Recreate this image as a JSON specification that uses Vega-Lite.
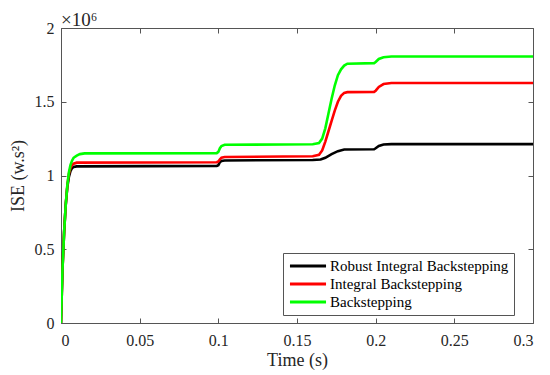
{
  "$schema": "https://vega.github.io/schema/vega-lite/v6.json",
  "width": 472,
  "height": 295,
  "autosize": {"type": "none"},
  "padding": {"left": 61, "top": 28, "right": 17, "bottom": 52},
  "title": {"text": "×10⁶", "anchor": "start", "frame": "group", "offset": 4, "dy": 14, "font": "Liberation Serif", "fontSize": 19, "fontWeight": "normal", "color": "#262626"},
  "config": {
    "view": {"stroke": "#555555", "strokeWidth": 1},
    "font": "Liberation Serif",
    "axis": {"grid": false, "domain": false, "tickColor": "#555555", "tickSize": -5, "labelFont": "Liberation Serif", "labelFontSize": 16, "labelColor": "#262626", "titleFont": "Liberation Serif", "titleFontSize": 18, "titleFontWeight": "normal", "titleColor": "#262626"}
  },
  "data": {"values": [
    {"t": 0, "v": 0, "s": "Robust Integral Backstepping"},
    {"t": 0.0005, "v": 0.2, "s": "Robust Integral Backstepping"},
    {"t": 0.001, "v": 0.38, "s": "Robust Integral Backstepping"},
    {"t": 0.002, "v": 0.62, "s": "Robust Integral Backstepping"},
    {"t": 0.003, "v": 0.8, "s": "Robust Integral Backstepping"},
    {"t": 0.004, "v": 0.92, "s": "Robust Integral Backstepping"},
    {"t": 0.005, "v": 0.99, "s": "Robust Integral Backstepping"},
    {"t": 0.006, "v": 1.03, "s": "Robust Integral Backstepping"},
    {"t": 0.007, "v": 1.05, "s": "Robust Integral Backstepping"},
    {"t": 0.008, "v": 1.058, "s": "Robust Integral Backstepping"},
    {"t": 0.01, "v": 1.062, "s": "Robust Integral Backstepping"},
    {"t": 0.099, "v": 1.065, "s": "Robust Integral Backstepping"},
    {"t": 0.1, "v": 1.07, "s": "Robust Integral Backstepping"},
    {"t": 0.101, "v": 1.09, "s": "Robust Integral Backstepping"},
    {"t": 0.102, "v": 1.098, "s": "Robust Integral Backstepping"},
    {"t": 0.104, "v": 1.102, "s": "Robust Integral Backstepping"},
    {"t": 0.16, "v": 1.105, "s": "Robust Integral Backstepping"},
    {"t": 0.165, "v": 1.108, "s": "Robust Integral Backstepping"},
    {"t": 0.168, "v": 1.12, "s": "Robust Integral Backstepping"},
    {"t": 0.172, "v": 1.145, "s": "Robust Integral Backstepping"},
    {"t": 0.176, "v": 1.165, "s": "Robust Integral Backstepping"},
    {"t": 0.18, "v": 1.176, "s": "Robust Integral Backstepping"},
    {"t": 0.199, "v": 1.178, "s": "Robust Integral Backstepping"},
    {"t": 0.2, "v": 1.185, "s": "Robust Integral Backstepping"},
    {"t": 0.202, "v": 1.2, "s": "Robust Integral Backstepping"},
    {"t": 0.205, "v": 1.21, "s": "Robust Integral Backstepping"},
    {"t": 0.21, "v": 1.213, "s": "Robust Integral Backstepping"},
    {"t": 0.3, "v": 1.213, "s": "Robust Integral Backstepping"},

    {"t": 0, "v": 0, "s": "Integral Backstepping"},
    {"t": 0.0005, "v": 0.2, "s": "Integral Backstepping"},
    {"t": 0.001, "v": 0.38, "s": "Integral Backstepping"},
    {"t": 0.002, "v": 0.62, "s": "Integral Backstepping"},
    {"t": 0.003, "v": 0.8, "s": "Integral Backstepping"},
    {"t": 0.004, "v": 0.93, "s": "Integral Backstepping"},
    {"t": 0.005, "v": 1.01, "s": "Integral Backstepping"},
    {"t": 0.006, "v": 1.05, "s": "Integral Backstepping"},
    {"t": 0.007, "v": 1.07, "s": "Integral Backstepping"},
    {"t": 0.008, "v": 1.08, "s": "Integral Backstepping"},
    {"t": 0.01, "v": 1.087, "s": "Integral Backstepping"},
    {"t": 0.099, "v": 1.09, "s": "Integral Backstepping"},
    {"t": 0.1, "v": 1.095, "s": "Integral Backstepping"},
    {"t": 0.101, "v": 1.11, "s": "Integral Backstepping"},
    {"t": 0.102, "v": 1.12, "s": "Integral Backstepping"},
    {"t": 0.104, "v": 1.125, "s": "Integral Backstepping"},
    {"t": 0.16, "v": 1.13, "s": "Integral Backstepping"},
    {"t": 0.164, "v": 1.14, "s": "Integral Backstepping"},
    {"t": 0.166, "v": 1.17, "s": "Integral Backstepping"},
    {"t": 0.168, "v": 1.23, "s": "Integral Backstepping"},
    {"t": 0.17, "v": 1.3, "s": "Integral Backstepping"},
    {"t": 0.172, "v": 1.37, "s": "Integral Backstepping"},
    {"t": 0.174, "v": 1.44, "s": "Integral Backstepping"},
    {"t": 0.176, "v": 1.5, "s": "Integral Backstepping"},
    {"t": 0.178, "v": 1.54, "s": "Integral Backstepping"},
    {"t": 0.18, "v": 1.56, "s": "Integral Backstepping"},
    {"t": 0.182, "v": 1.565, "s": "Integral Backstepping"},
    {"t": 0.199, "v": 1.567, "s": "Integral Backstepping"},
    {"t": 0.2, "v": 1.575, "s": "Integral Backstepping"},
    {"t": 0.202, "v": 1.6, "s": "Integral Backstepping"},
    {"t": 0.205, "v": 1.62, "s": "Integral Backstepping"},
    {"t": 0.21, "v": 1.627, "s": "Integral Backstepping"},
    {"t": 0.3, "v": 1.627, "s": "Integral Backstepping"},

    {"t": 0, "v": 0, "s": "Backstepping"},
    {"t": 0.0005, "v": 0.2, "s": "Backstepping"},
    {"t": 0.001, "v": 0.38, "s": "Backstepping"},
    {"t": 0.0015, "v": 0.5, "s": "Backstepping"},
    {"t": 0.002, "v": 0.62, "s": "Backstepping"},
    {"t": 0.003, "v": 0.8, "s": "Backstepping"},
    {"t": 0.004, "v": 0.93, "s": "Backstepping"},
    {"t": 0.005, "v": 1.02, "s": "Backstepping"},
    {"t": 0.006, "v": 1.07, "s": "Backstepping"},
    {"t": 0.007, "v": 1.1, "s": "Backstepping"},
    {"t": 0.008, "v": 1.12, "s": "Backstepping"},
    {"t": 0.01, "v": 1.135, "s": "Backstepping"},
    {"t": 0.012, "v": 1.145, "s": "Backstepping"},
    {"t": 0.015, "v": 1.15, "s": "Backstepping"},
    {"t": 0.099, "v": 1.152, "s": "Backstepping"},
    {"t": 0.1, "v": 1.16, "s": "Backstepping"},
    {"t": 0.101, "v": 1.185, "s": "Backstepping"},
    {"t": 0.102, "v": 1.2, "s": "Backstepping"},
    {"t": 0.104, "v": 1.208, "s": "Backstepping"},
    {"t": 0.16, "v": 1.212, "s": "Backstepping"},
    {"t": 0.164, "v": 1.22, "s": "Backstepping"},
    {"t": 0.166, "v": 1.25, "s": "Backstepping"},
    {"t": 0.168, "v": 1.32, "s": "Backstepping"},
    {"t": 0.17, "v": 1.42, "s": "Backstepping"},
    {"t": 0.172, "v": 1.52, "s": "Backstepping"},
    {"t": 0.174, "v": 1.61, "s": "Backstepping"},
    {"t": 0.176, "v": 1.68, "s": "Backstepping"},
    {"t": 0.178, "v": 1.72, "s": "Backstepping"},
    {"t": 0.18, "v": 1.745, "s": "Backstepping"},
    {"t": 0.182, "v": 1.758, "s": "Backstepping"},
    {"t": 0.199, "v": 1.762, "s": "Backstepping"},
    {"t": 0.2, "v": 1.77, "s": "Backstepping"},
    {"t": 0.202, "v": 1.79, "s": "Backstepping"},
    {"t": 0.205, "v": 1.802, "s": "Backstepping"},
    {"t": 0.21, "v": 1.807, "s": "Backstepping"},
    {"t": 0.3, "v": 1.807, "s": "Backstepping"}
  ]},
  "layer": [
    {
      "mark": {"type": "line", "strokeWidth": 2.6, "clip": true},
      "encoding": {
        "x": {"field": "t", "type": "quantitative", "scale": {"domain": [0, 0.3], "nice": false},
              "axis": {"orient": "bottom", "values": [0, 0.05, 0.1, 0.15, 0.2, 0.25, 0.3], "format": "~g", "title": "Time (s)", "labelPadding": 14, "titlePadding": 3}},
        "y": {"field": "v", "type": "quantitative", "scale": {"domain": [0, 2], "nice": false},
              "axis": {"orient": "left", "values": [0, 0.5, 1, 1.5, 2], "format": "~g", "title": "ISE (w.s²)", "labelPadding": 12, "titlePadding": 7}},
        "color": {"field": "s", "type": "nominal",
                  "scale": {"domain": ["Robust Integral Backstepping", "Integral Backstepping", "Backstepping"], "range": ["#000000", "#ff0000", "#00ff00"]},
                  "legend": {"title": null, "orient": "none", "legendX": 222, "legendY": 225, "symbolType": "stroke", "symbolSize": 1300, "symbolStrokeWidth": 3, "clipHeight": 16, "labelFont": "Liberation Serif", "labelFontSize": 15, "labelColor": "#000000", "strokeColor": "#555555", "fillColor": "#ffffff", "padding": 5, "rowPadding": 2, "labelOffset": 2, "labelLimit": 400}},
        "order": {"field": "t", "type": "quantitative"}
      }
    },
    {
      "mark": {"type": "line", "opacity": 0},
      "encoding": {
        "x": {"field": "t", "type": "quantitative", "axis": {"orient": "top", "values": [0, 0.05, 0.1, 0.15, 0.2, 0.25, 0.3], "labels": false, "title": null}},
        "y": {"field": "v", "type": "quantitative", "axis": {"orient": "right", "values": [0, 0.5, 1, 1.5, 2], "labels": false, "title": null}},
        "detail": {"field": "s"}
      }
    }
  ],
  "resolve": {"axis": {"x": "independent", "y": "independent"}}
}
